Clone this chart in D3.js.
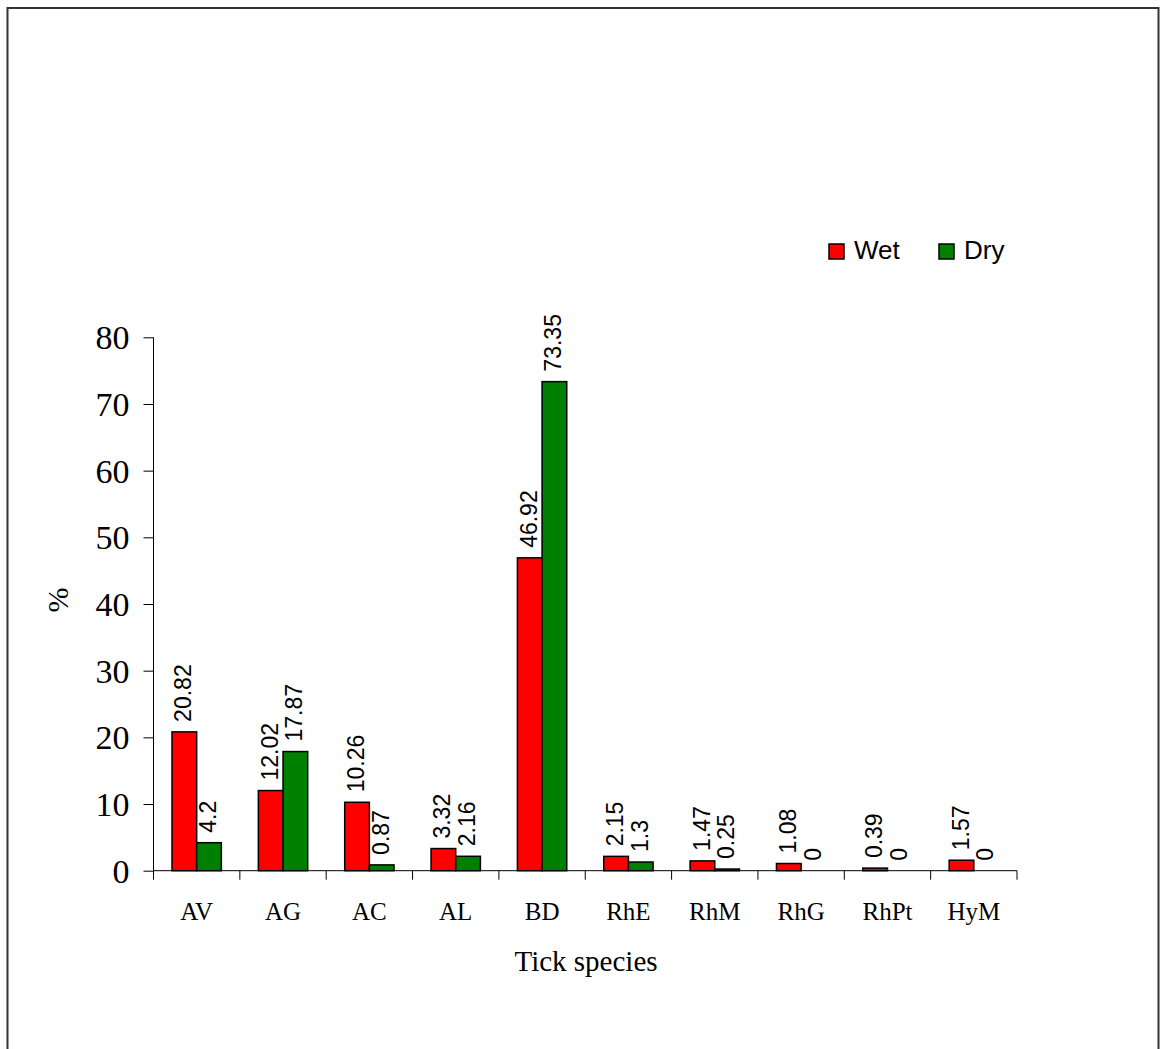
<!DOCTYPE html>
<html>
<head>
<meta charset="utf-8">
<script src="https://cdn.jsdelivr.net/npm/d3@7"></script>
<style>
  html, body { margin: 0; padding: 0; background: #fff; }
  svg { display: block; }
</style>
</head>
<body>
<script>
// Tick species prevalence (%) by season
const categories = ["AV", "AG", "AC", "AL", "BD", "RhE", "RhM", "RhG", "RhPt", "HyM"];
const seriesNames = ["Wet", "Dry"];
const wetValues = [20.82, 12.02, 10.26, 3.32, 46.92, 2.15, 1.47, 1.08, 0.39, 1.57];
const dryValues = [4.2, 17.87, 0.87, 2.16, 73.35, 1.3, 0.25, 0, 0, 0];
const yTicks = [0, 10, 20, 30, 40, 50, 60, 70, 80];
const seriesColors = ["#ff0000", "#008000"];

const W = 1161, H = 1049;
const svg = d3.select("body").append("svg").attr("width", W).attr("height", H);

// outer frame
svg.append("rect")
  .attr("x", 7.5).attr("y", 8).attr("width", 1151).attr("height", 1070)
  .attr("fill", "none").attr("stroke", "#333").attr("stroke-width", 2);

const plot = { left: 153.5, right: 1017, top: 337.3, bottom: 870.7 };

const x0 = d3.scaleBand().domain(categories).range([plot.left, plot.right]).padding(0);
const x1 = d3.scaleBand().domain(seriesNames).range([0, x0.bandwidth()]).paddingInner(0).paddingOuter(0.75);
const y = d3.scaleLinear().domain([0, 80]).range([plot.bottom, plot.top]);

const rows = categories.map((c, i) => ({ cat: c, vals: [wetValues[i], dryValues[i]] }));

// bars
const groups = svg.append("g").selectAll("g").data(rows).join("g")
  .attr("transform", d => `translate(${x0(d.cat)},0)`);

groups.selectAll("rect")
  .data(d => d.vals.map((v, k) => ({ v, k })).filter(e => e.v > 0))
  .join("rect")
  .attr("x", e => x1(seriesNames[e.k]))
  .attr("y", e => y(e.v))
  .attr("width", x1.bandwidth())
  .attr("height", e => y(0) - y(e.v))
  .attr("fill", e => seriesColors[e.k])
  .attr("stroke", "#000")
  .attr("stroke-width", 1.5);

// value labels, rotated
groups.selectAll("text")
  .data(d => d.vals.map((v, k) => ({ v, k })))
  .join("text")
  .attr("transform", e => `translate(${x1(seriesNames[e.k]) + x1.bandwidth() / 2 - 1},${y(e.v) - 10}) rotate(-90)`)
  .attr("dy", "0.35em")
  .attr("font-family", "Liberation Sans, Arial, sans-serif")
  .attr("font-size", 23)
  .attr("fill", "#000")
  .text(e => String(e.v));

// y axis
const yAxis = d3.axisLeft(y).tickValues(yTicks).tickSize(10).tickPadding(14).tickFormat(d3.format("d"));
const gy = svg.append("g").attr("transform", `translate(${plot.left},0)`).call(yAxis);
gy.select(".domain").attr("stroke", "#000").attr("d", `M0,${plot.top}V${plot.bottom}`);
gy.selectAll(".tick line").attr("stroke", "#000");
gy.selectAll(".tick text")
  .attr("font-family", "Liberation Serif, Times New Roman, serif")
  .attr("font-size", 34).attr("fill", "#000").attr("dy", "0.34em");

// x axis: baseline with boundary ticks between categories
const gx = svg.append("g");
gx.append("line")
  .attr("x1", plot.left).attr("x2", plot.right)
  .attr("y1", plot.bottom).attr("y2", plot.bottom)
  .attr("stroke", "#000");
const bounds = categories.map(c => x0(c)).concat([plot.right]);
gx.selectAll("line.b").data(bounds).join("line").attr("class", "b")
  .attr("x1", d => d).attr("x2", d => d)
  .attr("y1", plot.bottom).attr("y2", plot.bottom + 9)
  .attr("stroke", "#000");
gx.selectAll("text").data(categories).join("text")
  .attr("x", d => x0(d) + x0.bandwidth() / 2)
  .attr("y", 920)
  .attr("text-anchor", "middle")
  .attr("font-family", "Liberation Serif, Times New Roman, serif")
  .attr("font-size", 25)
  .text(d => d);

// axis titles
svg.append("text")
  .attr("x", 586).attr("y", 971)
  .attr("text-anchor", "middle")
  .attr("font-family", "Liberation Serif, Times New Roman, serif")
  .attr("font-size", 29)
  .text("Tick species");

svg.append("text")
  .attr("transform", "translate(68,600) rotate(-90)")
  .attr("text-anchor", "middle")
  .attr("font-family", "Liberation Serif, Times New Roman, serif")
  .attr("font-size", 30)
  .text("%");

// legend
const legendX = [829, 939];
const legend = svg.append("g").selectAll("g").data(seriesNames).join("g")
  .attr("transform", (d, i) => `translate(${legendX[i]},244)`);
legend.append("rect")
  .attr("width", 15).attr("height", 15)
  .attr("fill", (d, i) => seriesColors[i])
  .attr("stroke", "#000").attr("stroke-width", 1.5);
legend.append("text")
  .attr("x", 25).attr("y", 15)
  .attr("font-family", "Liberation Sans, Arial, sans-serif")
  .attr("font-size", 26)
  .text(d => d);
</script>
</body>
</html>
